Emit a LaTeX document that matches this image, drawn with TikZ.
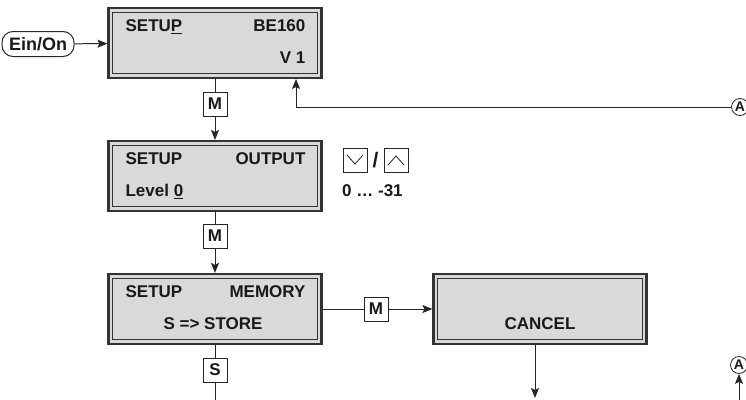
\documentclass[tikz,border=0pt]{standalone}
\usepackage{fontspec}
\setmainfont{Liberation Sans}
\usetikzlibrary{positioning,arrows.meta,calc}

\begin{document}
\begin{tikzpicture}[
  x=1pt,y=-1pt,
  font=\fontsize{17}{20}\selectfont\bfseries,
  lcd/.style={draw=black!80,line width=2.2pt,fill=black!15,minimum width=213,minimum height=70,inner sep=0},
  key/.style={draw=black!85,line width=0.9pt,fill=white,minimum width=24,minimum height=24,inner sep=0},
  onkey/.style={draw=black!85,line width=1pt,rounded corners=11pt,minimum width=72,minimum height=25,inner sep=0,font=\fontsize{18}{20}\selectfont\bfseries},
  circa/.style={draw=black!85,line width=0.8pt,circle,minimum size=17,inner sep=0,font=\fontsize{14}{14}\selectfont\bfseries},
  txt/.style={text=black!90,inner sep=0},
  ar/.style={-{Stealth[length=10pt,width=8pt,inset=2pt]},line width=1pt,draw=black!85},
  ln/.style={line width=1pt,draw=black!85}
]
\useasboundingbox (0,0) rectangle (746,399);
\node[onkey,txt] (on) at (38,44) {Ein/On};
\node[lcd] (b1) at (215,43)  {};
\node[lcd] (b2) at (215,176) {};
\node[lcd] (b3) at (215,309) {};
\node[lcd] (b4) at (540,309) {};
\foreach \b in {b1,b2,b3,b4}
  \draw[line width=0.9pt,draw=black!80] ($(\b.north west)+(5.5,5.5)$) rectangle ($(\b.south east)+(-5.5,-5.5)$);
\node[txt,anchor=base west] (s1)  at ($(b1.north west)+(18,25)$)   {SETU\underline{P}};
\node[txt,anchor=base east] (id)  at ($(b1.north east)+(-17,25)$)  {BE160};
\node[txt,anchor=base east] (ver) at ($(b1.north east)+(-17,57)$)  {V 1};
\node[txt,anchor=base west] (s2)  at ($(b2.north west)+(18,25)$)   {SETUP};
\node[txt,anchor=base east] (out) at ($(b2.north east)+(-17,25)$)  {OUTPUT};
\node[txt,anchor=base west] (lvl) at ($(b2.north west)+(18,56.5)$) {Level \underline{0}};
\node[txt,anchor=base west] (s3)  at ($(b3.north west)+(18,25)$)   {SETUP};
\node[txt,anchor=base east] (mem) at ($(b3.north east)+(-17,25)$)  {MEMORY};
\node[txt,anchor=base]      (sto) at ($(b3.north)+(-2,56.5)$)      {S => STORE};
\node[txt,anchor=base]      (can) at ($(b4.north)+(0,56.5)$)       {CANCEL};
\node[key,txt] (m1) at (215,104) {M};
\node[key,txt] (m2) at (215,236) {M};
\node[key,txt] (sk) at (215,370) {S};
\node[key,txt] (m3) at (376,309) {M};
\node[key] (dn) at (355,160) {};
\node[txt,font=\fontsize{21}{21}\selectfont\bfseries] (sl) at (375.5,160) {/};
\node[key] (up) at (396,160) {};
\node[txt,anchor=base west] (rng) at (342,196) {0 \dots\ -31};
\draw[line width=0.8pt,draw=black!85] ($(dn.center)+(-8,-5)$) -- ($(dn.center)+(0,4)$) -- ($(dn.center)+(8,-5)$);
\draw[line width=0.8pt,draw=black!85] ($(up.center)+(-8,5)$) -- ($(up.center)+(0,-4)$) -- ($(up.center)+(8,5)$);
\node[circa,txt] (a1) at (740,107) {A};
\node[circa,txt] (a2) at (739,365) {A};
\coordinate (ret) at (296,79);
\coordinate (sEnd) at (215,400);
\coordinate (cEnd) at (535,398);
\coordinate (aIn) at (739,400);
\draw[ar] (on) -- (b1);
\draw[ln] (b1) -- (m1);
\draw[ar] (m1) -- (b2);
\draw[ln] (b2) -- (m2);
\draw[ar] (m2) -- (b3);
\draw[ln] (b3) -- (sk);
\draw[ln] (sk) -- (sEnd);
\draw[ln] (b3) -- (m3);
\draw[ar] (m3) -- (b4);
\draw[ar] (b4.south -| cEnd) -- (cEnd);
\draw[ar] (a1.west) -| (ret);
\draw[ar] (aIn) -- (a2);
\end{tikzpicture}
\end{document}
